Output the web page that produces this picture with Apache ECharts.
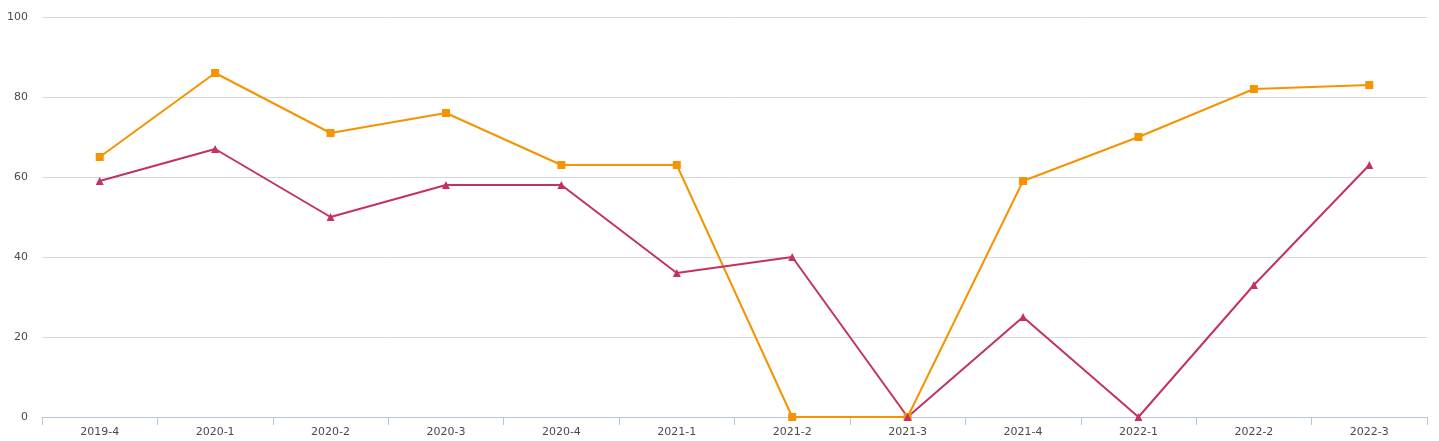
<!DOCTYPE html>
<html>
<head>
<meta charset="utf-8">
<script src="https://cdn.jsdelivr.net/npm/echarts@6/dist/echarts.min.js"></script>
<style>
html,body{margin:0;padding:0;background:#fff;}
#c{width:1439px;height:441px;}
</style>
</head>
<body>
<div id="c"></div>
<script>
var categories = ['2019-4','2020-1','2020-2','2020-3','2020-4','2021-1','2021-2','2021-3','2021-4','2022-1','2022-2','2022-3'];
var seriesA = [65, 86, 71, 76, 63, 63, 0, 0, 59, 70, 82, 83];
var seriesB = [59, 67, 50, 58, 58, 36, 40, 0, 25, 0, 33, 63];
var yTicks = [0, 20, 40, 60, 80, 100];

var chart = echarts.init(document.getElementById('c'));
chart.setOption({
  animation: false,
  grid: { left: 42, right: 12, top: 17, bottom: 24, containLabel: false },
  xAxis: {
    type: 'category',
    data: categories,
    boundaryGap: true,
    axisLine: { lineStyle: { color: '#b8c6db', width: 1 } },
    axisTick: { show: true, length: 8, lineStyle: { color: '#b8c6db' } },
    axisLabel: { color: '#4a4a4a', fontSize: 11, margin: 10, fontFamily: 'DejaVu Sans' }
  },
  yAxis: {
    type: 'value',
    min: yTicks[0],
    max: yTicks[yTicks.length - 1],
    interval: 20,
    axisLine: { show: false },
    axisTick: { show: false },
    splitLine: { lineStyle: { color: '#d9d9d9', width: 1 } },
    axisLabel: { color: '#4a4a4a', fontSize: 11, margin: 14, fontFamily: 'DejaVu Sans' }
  },
  series: [
    {
      type: 'line',
      data: seriesA,
      symbol: 'rect',
      symbolSize: 8,
      lineStyle: { color: '#f59300', width: 2 },
      itemStyle: { color: '#f59300' }
    },
    {
      type: 'line',
      data: seriesB,
      symbol: 'triangle',
      symbolSize: 8,
      lineStyle: { color: '#c4325f', width: 2 },
      itemStyle: { color: '#c4325f' }
    }
  ]
});
</script>
</body>
</html>
